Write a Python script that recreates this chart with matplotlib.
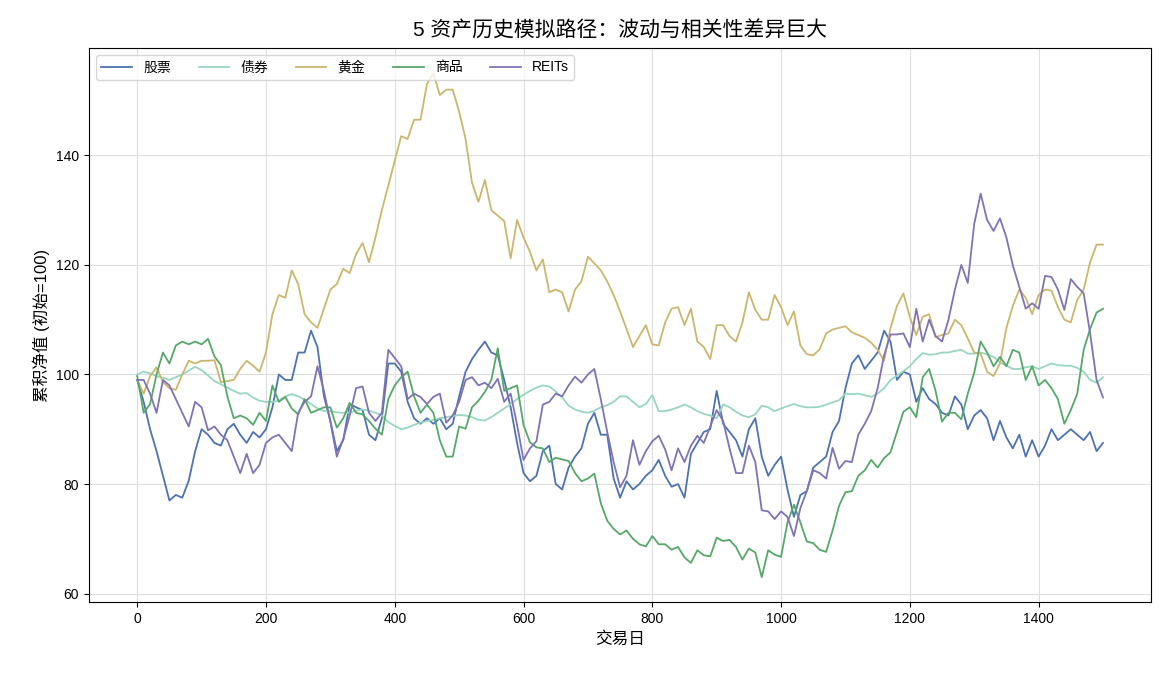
import numpy as np
import matplotlib
matplotlib.use('Agg')
import matplotlib.pyplot as plt

plt.rcParams['font.family'] = ['Liberation Sans', 'Noto Sans CJK SC']
plt.rcParams['axes.unicode_minus'] = False

# 交易日（每10天读一次值）
days = np.arange(0, 1501, 10)

stocks = [99, 95, 90, 86, 81.5, 77, 78, 77.5, 80.6, 86,
          90, 89, 87.5, 87, 90, 91, 89, 87.5, 89.5, 88.5,
          90, 94, 100, 99, 99, 104, 104, 108, 105, 96,
          91.5, 86, 88, 94.6, 94, 93.5, 89, 88, 92, 102,
          102, 100.5, 95, 92, 91, 92, 91, 92, 90, 91,
          96, 100.5, 102.8, 104.5, 106, 104, 103.5, 99, 94, 87.5,
          82, 80.5, 81.5, 86, 87, 80, 79, 83, 85, 86.5,
          91, 93, 89, 89, 81, 77.5, 80.5, 79, 80, 81.5,
          82.5, 84.4, 81.5, 79.5, 80, 77.5, 85.5, 87.5, 89.5, 90,
          97, 91, 89.5, 88, 85, 90, 92, 85, 81.5, 83.5,
          85, 79, 74, 78, 78.7, 83, 84, 85, 89.5, 91.5,
          97.5, 102, 103.5, 101, 102.5, 104, 108, 106, 99, 100.5,
          100, 95, 97.5, 95.5, 94.6, 93, 92.5, 96, 94.5, 90,
          92.5, 93.5, 92, 88, 91.5, 88.5, 86.5, 89, 85, 88,
          85, 87, 90, 88, 89, 90, 89, 88, 89.5, 86,
          87.5]

bonds = [100, 100.5, 100.2, 99.7, 99.4, 99, 99.5, 100, 100.7, 101.4,
         100.8, 99.8, 98.8, 98.2, 97.6, 97, 96.5, 96.6, 95.8, 95.2,
         95, 95, 95.2, 96, 96.4, 96, 95.4, 94.6, 93.8, 93.3,
         93.3, 93.1, 93, 93, 93.4, 93.6, 93.4, 93, 92.5, 91.3,
         90.6, 90, 90.3, 90.8, 91.2, 91.5, 91.7, 92, 92.2, 92.4,
         92.6, 92.5, 92.2, 91.7, 91.6, 92.2, 93, 93.8, 94.6, 95.5,
         96.3, 97, 97.6, 98, 97.8, 96.9, 95.8, 94.3, 93.6, 93.2,
         93, 93.4, 94, 94.4, 95, 96, 96, 95, 94, 94.6,
         96.2, 93.3, 93.3, 93.6, 94, 94.5, 94, 93.3, 92.8, 92.5,
         92, 94.5, 94, 93.2, 92.5, 92.2, 92.7, 94.3, 94, 93.3,
         93.8, 94.2, 94.6, 94.2, 94, 94, 94.1, 94.5, 94.9, 95.3,
         96.5, 96.4, 96.5, 96.2, 95.9, 96.5, 97.5, 99, 99.8, 100.6,
         101.5, 102.8, 103.9, 103.6, 103.7, 104, 104, 104.3, 104.5, 103.8,
         103.8, 104, 103.7, 103.2, 102.2, 101.6, 101, 101, 101.3, 101.5,
         101, 101.5, 102, 101.7, 101.6, 101.6, 101.2, 100.5, 99, 98.5,
         99.5]

gold = [99, 96.5, 99.7, 101.3, 98.6, 97.5, 97.2, 100, 102.5, 102,
        102.5, 102.5, 102.6, 98.6, 98.8, 99, 101, 102.5, 101.6, 100.5,
        104, 111, 114.5, 114, 119, 116.5, 111, 109.5, 108.5, 112,
        115.5, 116.5, 119.3, 118.5, 122, 124, 120.5, 125, 130, 134.5,
        139, 143.5, 143, 146.5, 146.5, 153, 155, 151, 152, 152,
        148, 143, 135, 131.5, 135.5, 130, 129, 128, 121.2, 128.2,
        125, 122.4, 119, 121, 115, 115.5, 115, 111.5, 115.5, 117,
        121.5, 120.3, 119, 117, 114.5, 111.5, 108.3, 105, 107, 109,
        105.5, 105.3, 109.5, 112, 112.3, 109, 112, 106, 105, 102.8,
        109, 109, 107, 106, 109.5, 115, 111.8, 110, 110, 114.5,
        112.3, 109, 111.5, 105.3, 103.7, 103.5, 104.6, 107.5, 108.2, 108.5,
        108.8, 107.7, 107.2, 106.7, 105.8, 104.5, 102.5, 108.5, 112.5, 114.8,
        110.5, 107.2, 110.5, 111, 106.8, 107.2, 107.5, 110, 109, 106.6,
        104, 103.8, 100.5, 99.7, 102, 108.5, 112.5, 115.5, 114, 111,
        114.5, 115.5, 115.3, 112.3, 110, 109.5, 113.6, 115.5, 120.5, 123.7,
        123.7]

commodities = [99.7, 93, 94.6, 100, 104, 102, 105.3, 106, 105.5, 106,
               105.5, 106.5, 103.3, 101.7, 96, 92, 92.5, 92, 90.8, 93,
               91.5, 98, 95, 95.9, 93.8, 92.7, 95.5, 93, 93.5, 94,
               94, 90.3, 92, 94.8, 93, 92.7, 91.5, 90.1, 89, 95.5,
               98, 99.5, 100.5, 96, 93, 94.5, 93, 88, 85, 85,
               90.5, 90.1, 94, 95.2, 96.8, 99, 104.8, 97, 97.5, 98,
               90.8, 87.6, 86.7, 86.5, 84, 84.8, 84.5, 84.2, 82, 80.5,
               81, 81.9, 76.5, 73.3, 71.8, 70.8, 71.5, 70, 69, 68.6,
               70.5, 69, 69, 68, 68.5, 66.6, 65.6, 67.9, 67, 66.8,
               70.2, 69.6, 69.8, 68.5, 66.2, 68.2, 67.5, 63, 67.9, 67.1,
               66.7, 73, 76.2, 73, 69.5, 69.2, 68, 67.6, 71.5, 76,
               78.5, 78.7, 81.5, 82.5, 84.4, 83, 84.7, 85.8, 89.5, 93.2,
               94, 92.2, 99.5, 101, 97, 91.4, 93, 93, 91.8, 96.5,
               100.3, 106, 104, 101.5, 103.2, 101.5, 104.5, 104, 99, 101.5,
               98, 99, 97.5, 95.5, 91, 93.5, 96.5, 104.5, 108.3, 111.3,
               112]

reits = [99, 99, 96.5, 93, 99, 98, 95.5, 93, 90.5, 95,
         94, 89.8, 90.5, 89, 88, 85, 82, 85.5, 82, 83.5,
         87.5, 88.5, 89, 87.5, 86, 93, 95, 96, 101.5, 97,
         91.4, 85, 88.2, 92.5, 97.5, 97.8, 93, 91.5, 93, 104.5,
         103, 101.5, 95.5, 96.5, 95.9, 94.6, 95.9, 96.5, 91.2, 92.5,
         95, 99, 99.5, 98, 98.5, 97.5, 99.2, 95, 96.5, 90.8,
         84.4, 86.5, 87.8, 94.5, 95, 96.5, 96, 98, 99.6, 98.5,
         100, 101, 95.5, 89.5, 84, 79.4, 81.5, 88, 83.5, 86,
         87.8, 88.8, 86.3, 82.5, 86.5, 84, 87, 88.8, 87.5, 90.5,
         93.5, 91.5, 86.5, 82, 82, 87, 84, 75.2, 75, 73.6,
         75, 74, 70.5, 75.6, 78.7, 82.5, 82, 81, 86.6, 82.8,
         84.2, 84, 89, 91, 93.3, 97.5, 103.5, 107.3, 107.3, 107.5,
         105, 112, 106, 110, 107, 106, 110, 115.5, 120, 116.7,
         127.5, 133, 128.2, 126.2, 128.5, 125, 119.9, 116, 112, 113,
         112, 118, 117.8, 115.5, 111.8, 117.4, 116, 114.8, 107.5, 99,
         95.8]

names = ['股票', '债券', '黄金', '商品', 'REITs']
colors = ['#4c72b0', '#98d7bf', '#ccb66e', '#55a868', '#8172b3']

fig, ax = plt.subplots(figsize=(11.7, 6.76), dpi=100)
fig.subplots_adjust(left=0.076, right=0.984, top=0.929, bottom=0.109)

for vals, name, c in zip([stocks, bonds, gold, commodities, reits], names, colors):
    ax.plot(days, vals, color=c, lw=1.3, label=name)

ax.set_title('5 资产历史模拟路径：波动与相关性差异巨大', fontsize=15, pad=8)
ax.set_xlabel('交易日', fontsize=12)
ax.set_ylabel('累积净值 (初始=100)', fontsize=12)
ax.tick_params(labelsize=10)
ax.grid(True, color='#dddddd', lw=0.8)
ax.set_axisbelow(True)
ax.legend(loc='upper left', ncol=5, fontsize=10, handlelength=2.2,
          frameon=True, borderaxespad=0.5)

plt.savefig('out.png', dpi=100)
